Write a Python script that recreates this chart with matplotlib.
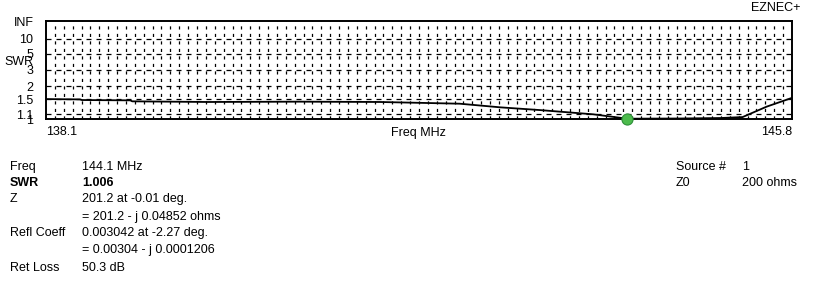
import matplotlib.pyplot as plt
import numpy as np

plt.rcParams['font.family'] = ['Liberation Sans', 'DejaVu Sans']

# SWR sweep
freq_mhz = [138.1, 138.45, 138.47, 138.97, 138.99, 139.77, 140.72, 141.55,
            142.37, 142.79, 143.2, 143.75, 143.97, 144.1, 144.64, 145.06,
            145.29, 145.54, 145.8]
swr = [1.51, 1.50, 1.48, 1.47, 1.44, 1.42, 1.43, 1.42,
       1.37, 1.27, 1.20, 1.10, 1.04, 1.006, 1.01, 1.02,
       1.04, 1.29, 1.55]

marker_freq = 144.1
marker_swr = 1.006

swr_ticks = [np.inf, 10, 5, 3, 2, 1.5, 1.1, 1]
swr_tick_labels = ['INF', '10', '5', '3', '2', '1.5', '1.1', '1']
x_min, x_max = 138.1, 145.8

info_labels = ['Freq', 'SWR', 'Z', '', 'Refl Coeff', '', 'Ret Loss']
info_values = ['144.1 MHz', '1.006', '201.2 at -0.01 deg.',
               '= 201.2 - j 0.04852 ohms', '0.003042 at -2.27 deg.',
               '= 0.00304 - j 0.0001206', '50.3 dB']
src_labels = ['Source #', 'Z0']
src_values = ['1', '200 ohms']


# EZNEC draws SWR on a scale linear in reflection coefficient
def refl(s):
    out = []
    for v in s:
        if np.isinf(v):
            out.append(1.0)
        else:
            out.append((v - 1) / (v + 1))
    return np.array(out)


W, H = 836, 288
fig = plt.figure(figsize=(W / 100, H / 100), dpi=100)
ax = fig.add_axes([46 / W, 1 - 119 / H, 746 / W, 98 / H])

# grid
for xg in np.linspace(x_min, x_max, 85)[1:-1]:
    ax.axvline(xg, color='black', linewidth=0.9, linestyle=(0, (2.5, 3.5)), zorder=1)
for yg in refl(swr_ticks[1:-1]):
    ax.axhline(yg, color='black', linewidth=0.9, linestyle=(0, (4, 4)), zorder=1)

ax.plot(freq_mhz, refl(swr), color='black', linewidth=1.3, zorder=3)
ax.plot([marker_freq], refl([marker_swr]), 'o', markersize=8,
        markerfacecolor='#4cbb4c', markeredgecolor='#2f8f3a', markeredgewidth=0.8,
        zorder=4, clip_on=False)

ax.set_xlim(x_min, x_max)
ax.set_ylim(0, 1)
ax.set_yticks(refl(swr_ticks))
ax.set_yticklabels(swr_tick_labels, fontsize=9)
ax.set_xticks([x_min, x_max])
ax.set_xticklabels([f'{x_min:.1f}', f'{x_max:.1f}'], fontsize=9)
xl = ax.get_xticklabels()
xl[0].set_ha('left')
xl[1].set_ha('right')
ax.tick_params(length=0, pad=5)
ax.tick_params(axis='y', pad=9)
for sp in ax.spines.values():
    sp.set_linewidth(1.4)

fig.text(418 / W, 1 - 133 / H, 'Freq MHz', fontsize=9, ha='center', va='center')
fig.text(4 / W, 1 - 62 / H, 'SWR', fontsize=9, ha='left', va='center')
fig.text(800 / W, 1 - 8 / H, 'EZNEC+', fontsize=9, ha='right', va='center')

row_y = [167, 183, 199, 217, 233, 250, 268]
for lab, val, y in zip(info_labels, info_values, row_y):
    weight = 'bold' if lab == 'SWR' else 'normal'
    fig.text(10 / W, 1 - y / H, lab, fontsize=9, ha='left', va='center', fontweight=weight)
    fig.text(82 / W, 1 - y / H, val, fontsize=9, ha='left', va='center', fontweight=weight)

for lab, val, y in zip(src_labels, src_values, row_y):
    fig.text(676 / W, 1 - y / H, lab, fontsize=9, ha='left', va='center')
    fig.text(742 / W, 1 - y / H, val, fontsize=9, ha='left', va='center')

fig.savefig('out.png', dpi=100)
